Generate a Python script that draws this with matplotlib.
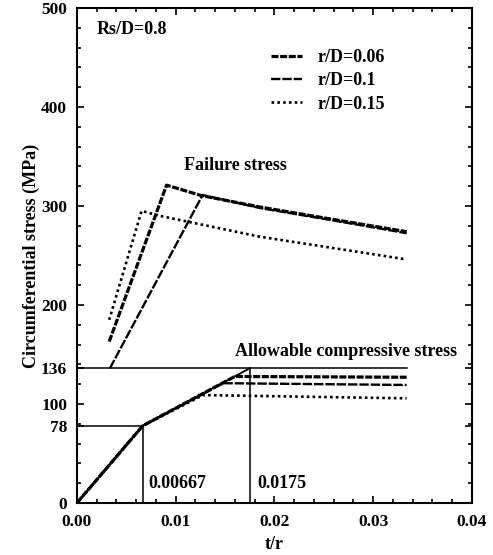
import matplotlib
matplotlib.use("Agg")
import matplotlib.pyplot as plt
from matplotlib.ticker import MultipleLocator

plt.rcParams["font.family"] = ["Liberation Serif", "DejaVu Serif"]
plt.rcParams["font.weight"] = "bold"

# failure stress curves (t/r, MPa)
fail_x_006 = [0.00327, 0.00908, 0.0126, 0.0185, 0.0253, 0.0334]
fail_y_006 = [163, 321, 310.5, 299, 287.5, 274]
fail_x_01 = [0.00334, 0.01273, 0.0185, 0.0253, 0.0334]
fail_y_01 = [136, 311, 298, 286.5, 272.5]
fail_x_015 = [0.00327, 0.00655, 0.0084, 0.0185, 0.0334]
fail_y_015 = [185, 295, 290, 269, 246]

# allowable compressive stress curves
allow_x_006 = [0.0, 0.00667, 0.0160, 0.0334]
allow_y_006 = [0, 78, 127.8, 127]
allow_x_01 = [0.0, 0.00667, 0.0148, 0.0334]
allow_y_01 = [0, 78, 121, 119.2]
allow_x_015 = [0.0, 0.00667, 0.0128, 0.0334]
allow_y_015 = [0, 78, 109, 105.7]

# reference lines
knee_x = [0.00667, 0.0175]
knee_y = [78, 136]
limit_end = 0.0334

yticks = [0, 78, 100, 136, 200, 300, 400, 500]
xticks = [0.00, 0.01, 0.02, 0.03, 0.04]

fig = plt.figure(figsize=(4.93, 5.55), dpi=100)
ax = fig.add_axes([0.156, 0.0937, 0.801, 0.892])

styles = {
    "r/D=0.06": dict(ls=(0, (2.2, 0.5)), lw=2.3),
    "r/D=0.1": dict(ls=(0, (4, 0.8)), lw=1.7),
    "r/D=0.15": dict(ls=(0, (1, 1.2)), lw=1.9),
}

ax.plot(fail_x_006, fail_y_006, color="black", label="r/D=0.06", **styles["r/D=0.06"])
ax.plot(fail_x_01, fail_y_01, color="black", label="r/D=0.1", **styles["r/D=0.1"])
ax.plot(fail_x_015, fail_y_015, color="black", label="r/D=0.15", **styles["r/D=0.15"])

ax.plot(allow_x_006, allow_y_006, color="black", **styles["r/D=0.06"])
ax.plot(allow_x_01, allow_y_01, color="black", **styles["r/D=0.1"])
ax.plot(allow_x_015, allow_y_015, color="black", **styles["r/D=0.15"])

# thin reference lines
ax.plot([0, knee_x[0], knee_x[1]], [0, knee_y[0], knee_y[1]], color="black", lw=1.3)
ax.plot([0, limit_end], [knee_y[1], knee_y[1]], color="black", lw=1.1)
ax.plot([0, knee_x[0]], [knee_y[0], knee_y[0]], color="black", lw=1.1)
ax.plot([knee_x[0], knee_x[0]], [0, knee_y[0]], color="black", lw=1.1)
ax.plot([knee_x[1], knee_x[1]], [0, knee_y[1]], color="black", lw=1.1)

ax.set_xlim(0, 0.04)
ax.set_ylim(0, 500)
ax.set_xticks(xticks)
ax.set_xticklabels([f"{v:.2f}" for v in xticks])
ax.set_yticks(yticks)
ax.xaxis.set_minor_locator(MultipleLocator(0.002))
ax.yaxis.set_minor_locator(MultipleLocator(20))
ax.tick_params(which="both", direction="in", top=True, right=True, labelsize=12.5, width=1.2)
ax.tick_params(axis="x", pad=8)
ax.tick_params(axis="y", pad=7)
ax.tick_params(which="major", length=5)
ax.tick_params(which="minor", length=3)
for s in ax.spines.values():
    s.set_linewidth(1.5)

ax.set_xlabel("t/r", fontsize=13, fontweight="bold", labelpad=4)
ax.set_ylabel("Circumferential stress (MPa)", fontsize=13, fontweight="bold", labelpad=1)

ax.text(0.002, 478, "Rs/D=0.8", fontsize=13, fontweight="bold", va="center")
ax.text(0.0161, 341, "Failure stress", fontsize=13, fontweight="bold", ha="center", va="center")
ax.text(0.0273, 153.5, "Allowable compressive stress", fontsize=13, fontweight="bold",
        ha="center", va="center")
ax.text(0.0072, 20, "0.00667", fontsize=13, fontweight="bold", va="center")
ax.text(0.0183, 20, "0.0175", fontsize=13, fontweight="bold", va="center")

leg = ax.legend(loc="upper left", bbox_to_anchor=(0.45, 0.95), frameon=False,
                fontsize=13, handlelength=1.7, handletextpad=0.9, labelspacing=0.35)

fig.savefig("out.png", dpi=100)
